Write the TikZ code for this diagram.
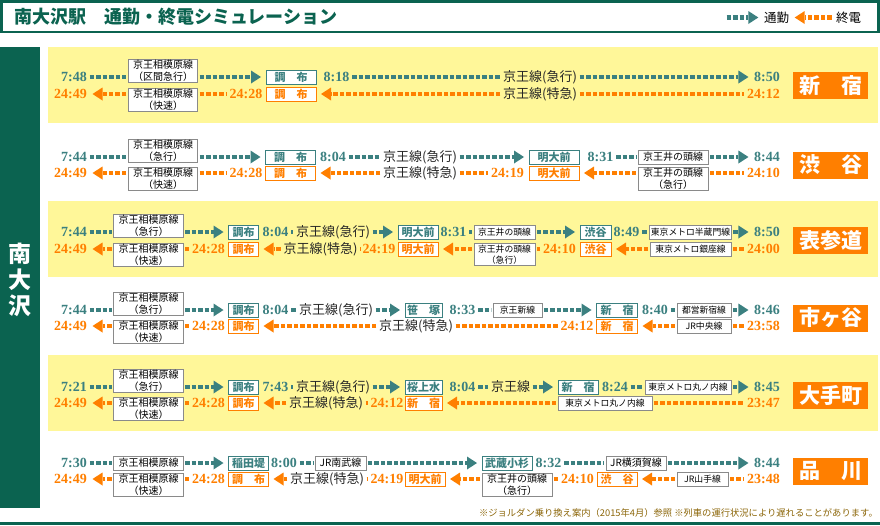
\documentclass[tikz,border=0pt]{standalone}
\usepackage{fontspec}
\setmainfont{Liberation Serif}
\newfontfamily\jp{Noto Sans CJK JP}
\usetikzlibrary{arrows.meta}
\definecolor{Teal}{HTML}{3B8080}
\definecolor{Orng}{HTML}{FF7F00}
\definecolor{DkGrn}{HTML}{0B6350}
\definecolor{Ylw}{HTML}{FFF799}
\definecolor{Gry}{HTML}{8A8A8A}
\definecolor{Note}{HTML}{8B6508}
\begin{document}
\begin{tikzpicture}[x=1pt,y=-1pt,
  tu/.style={font=\bfseries\fontsize{14}{14}\selectfont,text=Teal,inner sep=1pt},
  td/.style={tu,text=Orng},
  ln/.style={draw=Gry,fill=white,line width=0.9pt,font=\jp\fontsize{10}{12}\selectfont,align=center,inner sep=1pt,minimum height=14pt},
  lns/.style={ln,font=\jp\fontsize{8.8}{11}\selectfont},
  stu/.style={draw=Teal,fill=white,line width=1pt,text=Teal,font=\jp\bfseries\fontsize{11}{11}\selectfont,inner sep=0pt,minimum height=14pt},
  std/.style={stu,draw=Orng,text=Orng},
  via/.style={font=\jp\fontsize{13}{13}\selectfont,text=black!85,inner sep=1pt},
  dst/.style={fill=Orng,text=white,font=\jp\bfseries\fontsize{21}{21}\selectfont,minimum width=75pt,minimum height=27pt,inner sep=0pt},
  cu/.style={draw=Teal,line width=4.5pt,dash pattern=on 4.5pt off 2pt,shorten <=1.5pt,shorten >=1.5pt},
  cd/.style={cu,draw=Orng},
  arw/.style={-{Triangle[length=10pt,width=13pt,line width'=0pt]},shorten >=4.5pt}]
\useasboundingbox (0,0) rectangle (880,525);
\draw[DkGrn,line width=2.5pt,fill=white] (1.5,1.5) rectangle (878.5,32);
\node[anchor=west,text=DkGrn,font=\jp\bfseries\fontsize{18}{18}\selectfont,inner sep=0pt] (ttl) at (14,17) {南大沢駅　通勤・終電シミュレーション};
\node[font=\jp\fontsize{12.5}{12.5}\selectfont,inner sep=1pt] (lgA) at (776.5,17.5) {通勤};
\node[font=\jp\fontsize{12.5}{12.5}\selectfont,inner sep=1pt] (lgB) at (848.5,17.5) {終電};
\coordinate (lgS) at (725,17.5);
\coordinate (lgE) at (833,17.5);
\draw[cu,arw] (lgS) -- (lgA);
\draw[cd,arw] (lgE) -- (lgA);
\fill[DkGrn] (0,47) rectangle (40,508);
\node[text=white,font=\jp\bfseries\fontsize{23}{26}\selectfont,align=center,inner sep=0pt] (stn) at (20,280) {南\\大\\沢};
\foreach \yy in {47,201,355}
  \fill[Ylw] (48,\yy) rectangle (878,\yy+76);
\draw[DkGrn,line width=3pt] (0,523.5) -- (880,523.5);
\node[anchor=east,text=Note,font=\jp\fontsize{9.3}{10}\selectfont,inner sep=0pt] (note) at (878,513) {※ジョルダン乗り換え案内（2015年4月）参照 ※列車の運行状況により遅れることがあります。};

\foreach \n/\yu/\yd/\dep/\arr/\lst/\bx/\tx/\dst in {%
  1/77/94/7:48/8:50/24:12/163/246/新　宿,
  2/157/173/7:44/8:44/24:10/163/246/渋　谷,
  3/232/249/7:44/8:50/24:00/148.5/208.5/表参道,
  4/310/326/7:44/8:46/23:58/148.5/208.5/市ヶ谷,
  5/387/403/7:21/8:45/23:47/148.5/208.5/大手町,
  6/463/479/7:30/8:44/23:48/148.5/208.5/品　川}{
  \node[tu,anchor=east] (dep\n) at (88,\yu) {\dep};
  \node[td,anchor=east] (ret\n) at (88,\yd) {24:49};
  \node[tu,anchor=east] (arr\n) at (781,\yu) {\arr};
  \node[td,anchor=east] (lst\n) at (781,\yd) {\lst};
  \node[ln,minimum width=69.5pt] (kb\n) at (\bx,\yd+6) {京王相模原線\\（快速）};
  \node[td] (kr\n) at (\tx,\yd) {24:28};
  \node[dst] (dst\n) at (830.5,{(\yu+\yd)/2}) {\dst};
  \draw[cd,arw] (kb\n.west |- ret\n) -- (ret\n);
  \draw[cd] (kb\n.east |- kr\n) -- (kr\n);
}

% 新宿
\node[ln,minimum width=69.5pt] (ka1) at (163,71) {京王相模原線\\（区間急行）};
\node[stu,minimum width=50pt] (s1u) at (291,77) {調　布};
\node[tu] (t1u) at (336.5,77) {8:18};
\node[via] (v1u) at (540,77) {京王線(急行)};
\node[std,minimum width=50pt] (s1d) at (291,94) {調　布};
\node[via] (v1d) at (540,94) {京王線(特急)};
\draw[cu] (dep1) -- (dep1 -| ka1.west);
\draw[cu,arw] (ka1.east |- s1u) -- (s1u);
\draw[cu] (t1u) -- (v1u);
\draw[cu,arw] (v1u) -- (arr1);
\draw[cd,arw] (v1d) -- (s1d);
\draw[cd] (v1d) -- (lst1);

% 渋谷
\node[ln,minimum width=69.5pt] (ka2) at (163,151) {京王相模原線\\（急行）};
\node[stu,minimum width=50pt] (s2u) at (290.5,157) {調　布};
\node[tu] (t2u) at (333,157) {8:04};
\node[via] (v2u) at (420,157) {京王線(急行)};
\node[stu,minimum width=50pt] (m2u) at (554,157) {明大前};
\node[tu] (t2v) at (600.5,157) {8:31};
\node[ln,minimum width=70pt] (i2u) at (673,157) {京王井の頭線};
\node[std,minimum width=50pt] (s2d) at (290.5,173) {調　布};
\node[via] (v2d) at (420,173) {京王線(特急)};
\node[td] (t2d) at (507.5,173) {24:19};
\node[std,minimum width=50pt] (m2d) at (554,173) {明大前};
\node[ln,minimum width=70pt] (i2d) at (673,179) {京王井の頭線\\（急行）};
\draw[cu] (dep2) -- (dep2 -| ka2.west);
\draw[cu,arw] (ka2.east |- s2u) -- (s2u);
\draw[cu] (t2u) -- (v2u);
\draw[cu,arw] (v2u) -- (m2u);
\draw[cu] (t2v) -- (i2u);
\draw[cu,arw] (i2u) -- (arr2);
\draw[cd,arw] (v2d) -- (s2d);
\draw[cd] (v2d) -- (t2d);
\draw[cd,arw] (i2d.west |- m2d) -- (m2d);
\draw[cd] (i2d.east |- lst2) -- (lst2);

% 表参道
\node[ln,minimum width=69.5pt] (ka3) at (148.5,226) {京王相模原線\\（急行）};
\node[stu,minimum width=30pt] (s3u) at (243.5,232) {調布};
\node[tu] (t3u) at (275.5,232) {8:04};
\node[via] (v3u) at (333,232) {京王線(急行)};
\node[stu,minimum width=40pt] (m3u) at (418,232) {明大前};
\node[tu] (t3v) at (453.5,232) {8:31};
\node[lns,minimum width=61pt] (i3u) at (504.5,232) {京王井の頭線};
\node[stu,minimum width=31pt] (h3u) at (595.5,232) {渋谷};
\node[tu] (t3w) at (626.5,232) {8:49};
\node[lns,minimum width=81pt] (g3u) at (690.5,232) {東京メトロ半蔵門線};
\node[std,minimum width=30pt] (s3d) at (243.5,249) {調布};
\node[via] (v3d) at (320.5,249) {京王線(特急)};
\node[td] (t3d) at (379,249) {24:19};
\node[std,minimum width=40pt] (m3d) at (418,249) {明大前};
\node[lns,minimum width=61pt] (i3d) at (504.5,254.5) {京王井の頭線\\（急行）};
\node[td] (t3e) at (559.5,249) {24:10};
\node[std,minimum width=31pt] (h3d) at (595.5,249) {渋谷};
\node[lns,minimum width=81pt] (g3d) at (690.5,249) {東京メトロ銀座線};
\draw[cu] (dep3) -- (dep3 -| ka3.west);
\draw[cu,arw] (ka3.east |- s3u) -- (s3u);
\draw[cu] (t3u) -- (v3u);
\draw[cu,arw] (v3u) -- (m3u);
\draw[cu] (t3v) -- (i3u);
\draw[cu,arw] (i3u) -- (h3u);
\draw[cu] (t3w) -- (g3u);
\draw[cu,arw] (g3u) -- (arr3);
\draw[cd,arw] (v3d) -- (s3d);
\draw[cd] (v3d) -- (t3d);
\draw[cd,arw] (i3d.west |- m3d) -- (m3d);
\draw[cd] (i3d.east |- t3e) -- (t3e);
\draw[cd,arw] (g3d) -- (h3d);
\draw[cd] (g3d) -- (lst3);

% 市ヶ谷
\node[ln,minimum width=69.5pt] (ka4) at (148.5,304) {京王相模原線\\（急行）};
\node[stu,minimum width=30pt] (s4u) at (243.5,310) {調布};
\node[tu] (t4u) at (275.5,310) {8:04};
\node[via] (v4u) at (336,310) {京王線(急行)};
\node[stu,minimum width=37pt] (k4u) at (423.5,310) {笹　塚};
\node[tu] (t4v) at (462.5,310) {8:33};
\node[lns,minimum width=49pt] (i4u) at (517.5,310) {京王新線};
\node[stu,minimum width=41pt] (n4u) at (617,310) {新　宿};
\node[tu] (t4w) at (655,310) {8:40};
\node[lns,minimum width=54pt] (g4u) at (704,310) {都営新宿線};
\node[std,minimum width=30pt] (s4d) at (243.5,326) {調布};
\node[via] (v4d) at (416,326) {京王線(特急)};
\node[td] (t4d) at (577,326) {24:12};
\node[std,minimum width=41pt] (n4d) at (617,326) {新　宿};
\node[lns,minimum width=54pt] (g4d) at (704,326) {JR中央線};
\draw[cu] (dep4) -- (dep4 -| ka4.west);
\draw[cu,arw] (ka4.east |- s4u) -- (s4u);
\draw[cu] (t4u) -- (v4u);
\draw[cu,arw] (v4u) -- (k4u);
\draw[cu] (t4v) -- (i4u);
\draw[cu,arw] (i4u) -- (n4u);
\draw[cu] (t4w) -- (g4u);
\draw[cu,arw] (g4u) -- (arr4);
\draw[cd,arw] (v4d) -- (s4d);
\draw[cd] (v4d) -- (t4d);
\draw[cd,arw] (g4d) -- (n4d);
\draw[cd] (g4d) -- (lst4);

% 大手町
\node[ln,minimum width=69.5pt] (ka5) at (148.5,381) {京王相模原線\\（急行）};
\node[stu,minimum width=30pt] (s5u) at (243.5,387) {調布};
\node[tu] (t5u) at (275.5,387) {7:43};
\node[via] (v5u) at (333,387) {京王線(急行)};
\node[stu,minimum width=37pt] (k5u) at (423.5,387) {桜上水};
\node[tu] (t5v) at (462.5,387) {8:04};
\node[via] (w5u) at (510.5,387) {京王線};
\node[stu,minimum width=40pt] (n5u) at (578,387) {新　宿};
\node[tu] (t5w) at (615,387) {8:24};
\node[lns,minimum width=86pt] (g5u) at (688,387) {東京メトロ丸ノ内線};
\node[std,minimum width=30pt] (s5d) at (243.5,403) {調布};
\node[via] (v5d) at (326,403) {京王線(特急)};
\node[td] (t5d) at (387,403) {24:12};
\node[std,minimum width=37pt] (n5d) at (423.5,403) {新　宿};
\node[lns,minimum width=94pt] (g5d) at (605,403) {東京メトロ丸ノ内線};
\draw[cu] (dep5) -- (dep5 -| ka5.west);
\draw[cu,arw] (ka5.east |- s5u) -- (s5u);
\draw[cu] (t5u) -- (v5u);
\draw[cu,arw] (v5u) -- (k5u);
\draw[cu] (t5v) -- (w5u);
\draw[cu,arw] (w5u) -- (n5u);
\draw[cu] (t5w) -- (g5u);
\draw[cu,arw] (g5u) -- (arr5);
\draw[cd,arw] (v5d) -- (s5d);
\draw[cd] (v5d) -- (t5d);
\draw[cd,arw] (g5d) -- (n5d);
\draw[cd] (g5d) -- (lst5);

% 品川
\node[ln,minimum width=69.5pt] (ka6) at (148.5,463) {京王相模原線};
\node[stu,minimum width=40pt] (s6u) at (248.5,463) {稲田堤};
\node[tu] (t6u) at (284,463) {8:00};
\node[ln,minimum width=51pt] (j6u) at (340.5,463) {JR南武線};
\node[stu,minimum width=50pt] (m6u) at (507,463) {武蔵小杉};
\node[tu] (t6v) at (548.5,463) {8:32};
\node[ln,minimum width=60pt] (y6u) at (636,463) {JR横須賀線};
\node[std,minimum width=40pt] (s6d) at (248.5,479) {調　布};
\node[via] (v6d) at (327,479) {京王線(特急)};
\node[td] (t6d) at (387,479) {24:19};
\node[std,minimum width=40pt] (m6d) at (425,479) {明大前};
\node[ln,minimum width=70pt] (i6d) at (517,485) {京王井の頭線\\（急行）};
\node[td] (t6e) at (577.5,479) {24:10};
\node[std,minimum width=40pt] (h6d) at (617,479) {渋　谷};
\node[lns,minimum width=51pt] (j6d) at (702.5,479) {JR山手線};
\draw[cu] (dep6) -- (ka6);
\draw[cu,arw] (ka6) -- (s6u);
\draw[cu] (t6u) -- (j6u);
\draw[cu,arw] (j6u) -- (m6u);
\draw[cu] (t6v) -- (y6u);
\draw[cu,arw] (y6u) -- (arr6);
\draw[cd,arw] (v6d) -- (s6d);
\draw[cd] (v6d) -- (t6d);
\draw[cd,arw] (i6d.west |- m6d) -- (m6d);
\draw[cd] (i6d.east |- t6e) -- (t6e);
\draw[cd,arw] (j6d) -- (h6d);
\draw[cd] (j6d) -- (lst6);
\end{tikzpicture}
\end{document}
